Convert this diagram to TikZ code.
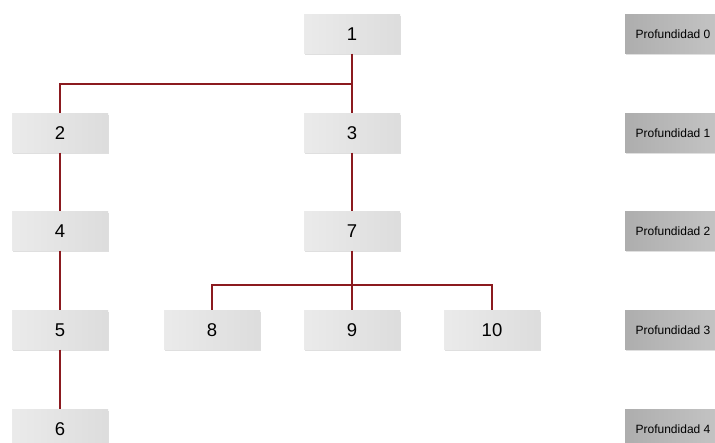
\documentclass[tikz,border=0pt]{standalone}
\usepackage{fontspec}
\setmainfont{Liberation Sans}
\usetikzlibrary{shadows}
\definecolor{linkred}{HTML}{8B1A1F}
\tikzset{
  nodebox/.style={minimum width=96pt, minimum height=39pt, inner sep=0pt,
    left color=gray!16, right color=gray!27, draw=none,
    drop shadow={shadow xshift=1pt, shadow yshift=-1.5pt, opacity=0.25},
    font=\fontsize{18.5}{21}\selectfont},
  depthbox/.style={minimum width=96pt, minimum height=39pt, inner sep=0pt,
    left color=gray!64, right color=gray!46, draw=none,
    drop shadow={shadow xshift=1pt, shadow yshift=-1.5pt, opacity=0.25},
    font=\fontsize{12}{14}\selectfont},
  link/.style={draw=linkred, line width=1.8pt}
}
\begin{document}
\begin{tikzpicture}[x=1pt,y=-1pt]
\useasboundingbox (0,0) rectangle (715,443);
\fill[white] (0,0) rectangle (715,443);
% tree nodes
\node[nodebox] (n1) at (352,34) {1};
\node[nodebox] (n2) at (60,133) {2};
\node[nodebox] (n3) at (352,133) {3};
\node[nodebox] (n4) at (60,231) {4};
\node[nodebox] (n7) at (352,231) {7};
\node[nodebox] (n5) at (60,330) {5};
\node[nodebox] (n8) at (212,330) {8};
\node[nodebox] (n9) at (352,330) {9};
\node[nodebox] (n10) at (492,330) {10};
\node[nodebox] (n6) at (60,429) {6};
% depth labels
\node[depthbox] (d0) at (673,34) {Profundidad 0};
\node[depthbox] (d1) at (673,133) {Profundidad 1};
\node[depthbox] (d2) at (673,231) {Profundidad 2};
\node[depthbox] (d3) at (673,330) {Profundidad 3};
\node[depthbox] (d4) at (673,429) {Profundidad 4};
% connectors
\coordinate (j1) at (352,84);
\coordinate (j7) at (352,285);
\draw[link] (n1.south) -- (n3.north);
\draw[link] (j1) -| (n2.north);
\draw[link] (n2.south) -- (n4.north);
\draw[link] (n4.south) -- (n5.north);
\draw[link] (n5.south) -- (n6.north);
\draw[link] (n3.south) -- (n7.north);
\draw[link] (n7.south) -- (n9.north);
\draw[link] (j7) -| (n8.north);
\draw[link] (j7) -| (n10.north);
\end{tikzpicture}
\end{document}
